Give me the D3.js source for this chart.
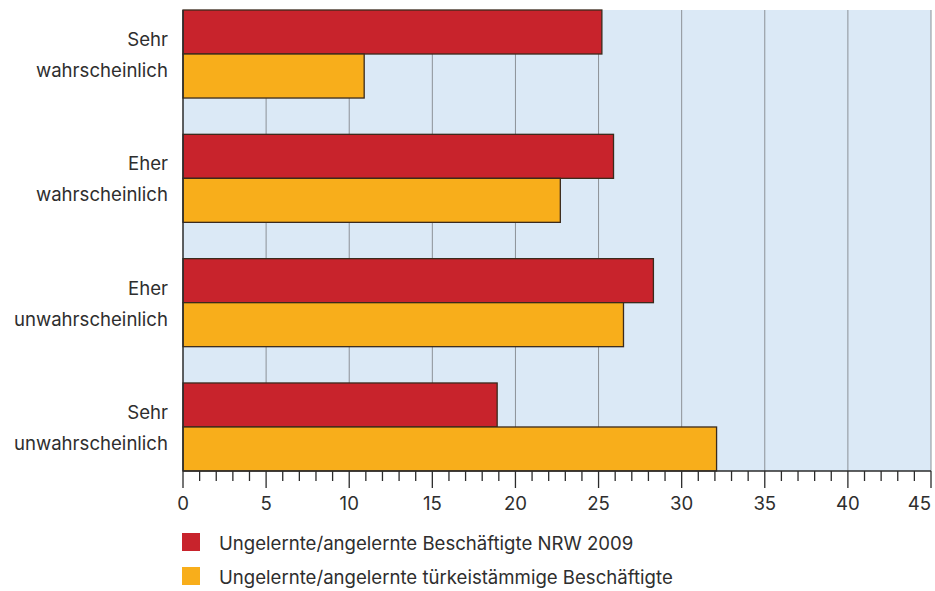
<!DOCTYPE html>
<html>
<head>
<meta charset="utf-8">
<script src="https://cdn.jsdelivr.net/npm/d3@7"></script>
<style>
  html, body { margin: 0; padding: 0; background: #ffffff; }
  svg { display: block; }
  text { font-family: Inter, Roboto, "Noto Sans", sans-serif; fill: #2e2e2e; }
</style>
</head>
<body>
<svg id="chart" width="935" height="591"></svg>
<script>
// Category labels (two lines each)
const categories = [
  ["Sehr", "wahrscheinlich"],
  ["Eher", "wahrscheinlich"],
  ["Eher", "unwahrscheinlich"],
  ["Sehr", "unwahrscheinlich"]
];
const seriesNames = [
  "Ungelernte/angelernte Beschäftigte NRW 2009",
  "Ungelernte/angelernte türkeistämmige Beschäftigte"
];
const nrwValues = [25.2, 25.9, 28.3, 18.9];
const turkValues = [10.9, 22.7, 26.5, 32.1];
const xTicks = [0, 5, 10, 15, 20, 25, 30, 35, 40, 45];
const minorTicks = d3.range(0, 46, 1);

const colors = ["#c8232c", "#f8ae1b"];
const fontSize = 18.6;

const svg = d3.select("#chart");
const plotLeft = 183, plotRight = 931, plotTop = 10, plotBottom = 471;

const x = d3.scaleLinear().domain([0, 45]).range([plotLeft, plotRight]);
const keys = categories.map((c, i) => i);
const y = d3.scaleBand().domain(keys).range([plotTop, plotBottom]).paddingInner(0.292).paddingOuter(0);
const ySub = d3.scaleBand().domain([0, 1]).range([0, y.bandwidth()]);

// Plot background
svg.append("rect")
  .attr("x", plotLeft).attr("y", plotTop)
  .attr("width", plotRight - plotLeft).attr("height", plotBottom - plotTop)
  .attr("fill", "#dbe9f6");

// Vertical grid lines
svg.append("g").selectAll("line")
  .data(xTicks.slice(1, -1))
  .join("line")
  .attr("x1", d => x(d)).attr("x2", d => x(d))
  .attr("y1", plotTop).attr("y2", plotBottom)
  .attr("stroke", "#8c9197").attr("stroke-width", 1);

// Right border of plot area
svg.append("line")
  .attr("x1", plotRight).attr("x2", plotRight).attr("y1", plotTop).attr("y2", plotBottom)
  .attr("stroke", "#8c9197").attr("stroke-width", 1);

// Bars
const series = [nrwValues, turkValues];
const groups = svg.append("g").selectAll("g")
  .data(keys)
  .join("g")
  .attr("transform", d => `translate(0,${y(d)})`);

groups.selectAll("rect")
  .data(i => series.map((s, k) => ({ k, v: s[i] })))
  .join("rect")
  .attr("x", x(0))
  .attr("y", d => ySub(d.k))
  .attr("width", d => x(d.v) - x(0))
  .attr("height", ySub.bandwidth())
  .attr("fill", d => colors[d.k])
  .attr("stroke", "#3b2a1c")
  .attr("stroke-width", 1.3);

// Left axis line
svg.append("line")
  .attr("x1", plotLeft).attr("x2", plotLeft).attr("y1", plotTop).attr("y2", plotBottom)
  .attr("stroke", "#2b2b2b").attr("stroke-width", 1.5);

// Category labels
const labels = svg.append("g").selectAll("text")
  .data(keys)
  .join("text")
  .attr("text-anchor", "end")
  .attr("font-size", fontSize);
labels.each(function(i) {
  const cy = y(i) + y.bandwidth() / 2;
  const t = d3.select(this);
  t.append("tspan").attr("x", 168).attr("y", cy - 8).text(categories[i][0]);
  t.append("tspan").attr("x", 168).attr("y", cy + 23).text(categories[i][1]);
});

// Bottom axis: minor ticks every unit, major every 5
const axisG = svg.append("g").attr("transform", `translate(0,${plotBottom})`);
axisG.append("line")
  .attr("x1", plotLeft).attr("x2", plotRight)
  .attr("stroke", "#2b2b2b").attr("stroke-width", 1.5);
axisG.append("g").selectAll("line")
  .data(minorTicks)
  .join("line")
  .attr("x1", d => x(d)).attr("x2", d => x(d))
  .attr("y1", 0)
  .attr("y2", d => d % 5 === 0 ? 17 : 10)
  .attr("stroke", "#2b2b2b").attr("stroke-width", 1.3);
axisG.append("g").selectAll("text")
  .data(xTicks)
  .join("text")
  .attr("x", d => x(d))
  .attr("y", 39)
  .attr("text-anchor", d => d === 45 ? "end" : "middle")
  .attr("font-size", fontSize)
  .text(d => d);

// Legend
const legend = svg.append("g").selectAll("g")
  .data(seriesNames)
  .join("g")
  .attr("transform", (d, i) => `translate(182,${533 + i * 34})`);
legend.append("rect")
  .attr("width", 18).attr("height", 18)
  .attr("fill", (d, i) => colors[i]);
legend.append("text")
  .attr("x", 37).attr("y", 17)
  .attr("font-size", fontSize)
  .text(d => d);
</script>
</body>
</html>
